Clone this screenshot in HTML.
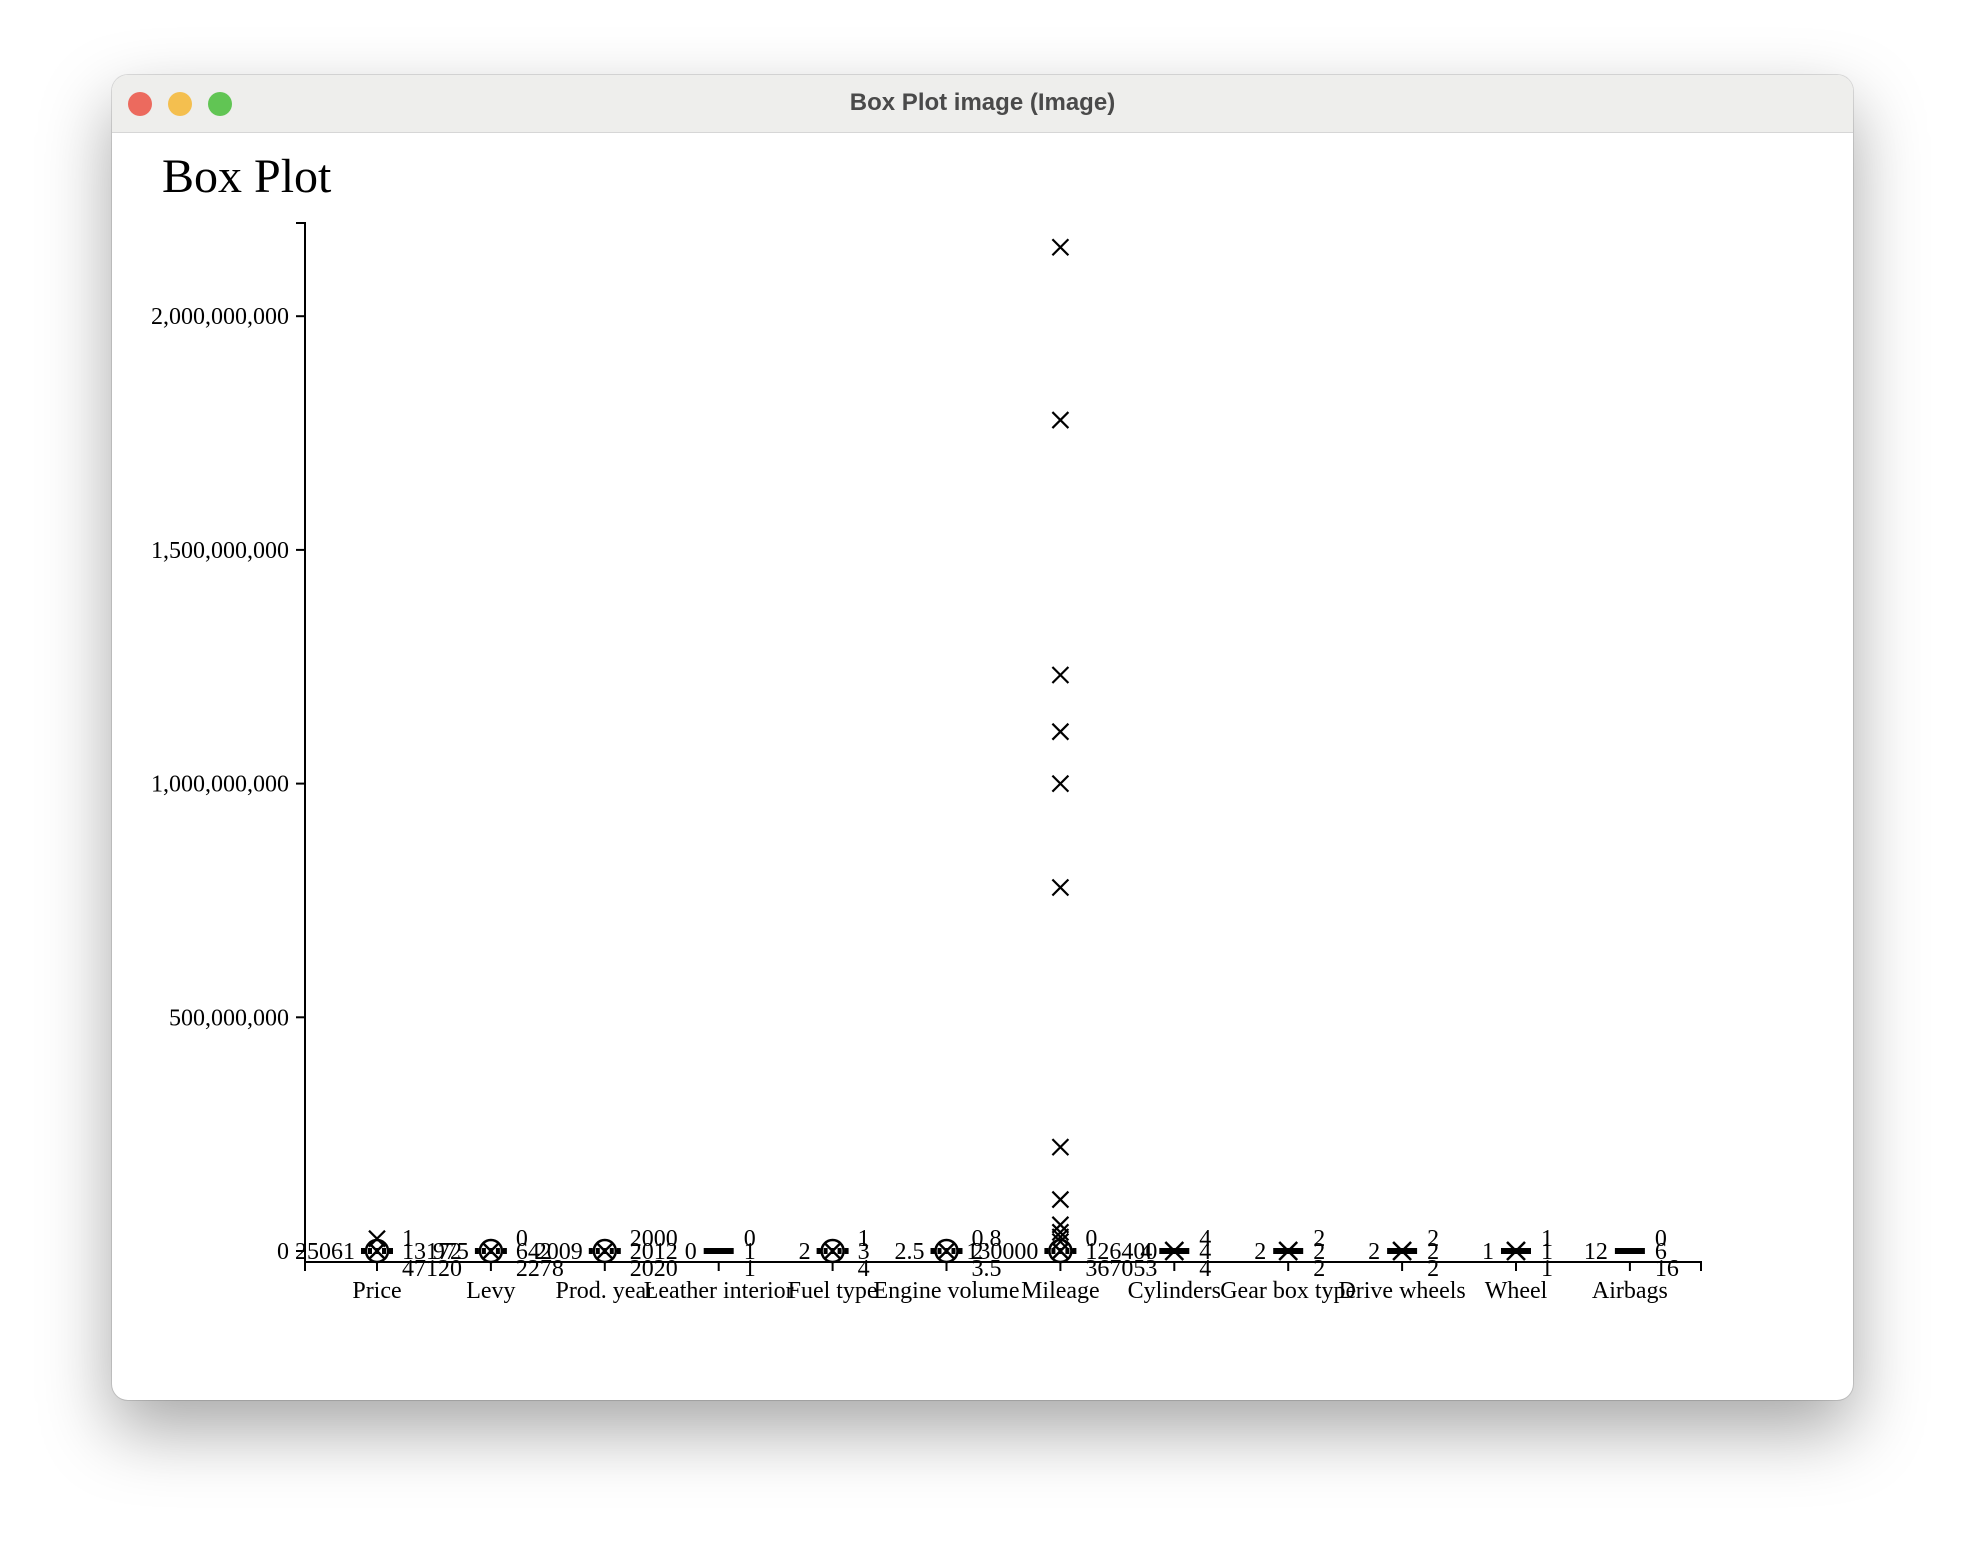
<!DOCTYPE html>
<html><head><meta charset="utf-8">
<style>
body{margin:0;width:1966px;height:1550px;background:#fff;position:relative;overflow:hidden;font-family:"Liberation Sans",sans-serif;}
#win{position:absolute;left:112px;top:75px;width:1741px;height:1325px;border-radius:16px;background:#fff;box-shadow:0 30px 70px rgba(0,0,0,0.35),0 0 0 1px rgba(0,0,0,0.12);overflow:hidden;}
#bar{position:absolute;left:0;top:0;width:100%;height:57px;background:#eeeeec;border-bottom:1px solid #d6d6d6;}
.dot{position:absolute;top:17px;width:24px;height:24px;border-radius:50%;}
#ttl{position:absolute;left:0;width:100%;top:14px;text-align:center;font-weight:bold;font-size:24px;color:#4a4a4a;}
svg{position:absolute;left:0;top:0;}
</style></head><body>
<div id="win">
 <div id="bar">
  <div class="dot" style="left:16px;background:#ec6a5e"></div>
  <div class="dot" style="left:56px;background:#f4bf4f"></div>
  <div class="dot" style="left:96px;background:#61c554"></div>
  <div id="ttl">Box Plot image (Image)</div>
 </div>
</div>
<svg id="chart" width="1966" height="1550" font-family="'Liberation Serif',serif">
 <text x="162" y="192" font-size="48">Box Plot</text>
</svg>
<script>
const categories=["Price","Levy","Prod. year","Leather interior","Fuel type","Engine volume","Mileage","Cylinders","Gear box type","Drive wheels","Wheel","Airbags"];
const leftLabels=["25061","975","2009","0","2","2.5","130000","4","2","2","1","12"];
const topLabels=["1","0","2000","0","1","0.8","0","4","2","2","1","0"];
const midLabels=["13172","642","2012","1","3","2","126400","4","2","2","1","6"];
const botLabels=["47120","2278","2020","1","4","3.5","367053","4","2","2","1","16"];
const markerTypes=["circle","circle","circle","bar","circle","circle","circle","cross","cross","cross","cross","bar"];
const outlierCats=[0,6,6,6,6,6,6,6,6,6,6,6,6];
const outlierVals=[26307500,2147483647,1777777777,1232323232,1111111111,999999999,777777777,222222222,110000000,56000000,40000000,30000000,20000000];
const yTicks=[0,500000000,1000000000,1500000000,2000000000];
const NS="http://www.w3.org/2000/svg";
const svg=document.getElementById('chart');
function yS(v){return 1251-v/1e9*467.4;}
function x(i){return 377+i*113.9;}
function el(t,a){const e=document.createElementNS(NS,t);for(const k in a)e.setAttribute(k,a[k]);svg.appendChild(e);return e;}
function txt(s,a){const e=el('text',a);e.textContent=s;return e;}
let ya=el('path',{d:'M296,223H305V1262',fill:'none',stroke:'#000','stroke-width':2});


let xa=el('path',{d:'M305,1271V1262H1701V1271',fill:'none',stroke:'#000','stroke-width':2});


yTicks.forEach(v=>{
 const yy=yS(v);
 const t=el('line',{x1:296,x2:305,y1:yy,y2:yy,stroke:'#000','stroke-width':2});
 
 
 const l=txt(v.toLocaleString('en-US'),{x:289,y:yy+8,'font-size':24,'text-anchor':'end'});
 
 
});
categories.forEach((c,i)=>{
 const cx=x(i),cy=yS(0);
 const t=el('line',{x1:cx,x2:cx,y1:1262,y2:1271,stroke:'#000','stroke-width':2});
 
 
 const l=txt(c,{x:cx,y:1298,'font-size':24,'text-anchor':'middle'});
 
 
 const g=document.createElementNS(NS,'g');svg.appendChild(g);
 
 
 const add=(t,a)=>{const e=document.createElementNS(NS,t);for(const k in a)e.setAttribute(k,a[k]);g.appendChild(e);return e;};
 const mt=markerTypes[i];
 if(mt==='circle'){
  add('line',{x1:cx-16,x2:cx+16,y1:cy,y2:cy,stroke:'#000','stroke-width':6,'stroke-dasharray':'4 3'});
  add('circle',{cx:cx,cy:cy,r:11,fill:'none',stroke:'#000','stroke-width':2.5});
  add('path',{d:`M${cx-8},${cy-8}L${cx+8},${cy+8}M${cx+8},${cy-8}L${cx-8},${cy+8}`,stroke:'#000','stroke-width':2.5});
 }else if(mt==='bar'){
  add('line',{x1:cx-15,x2:cx+15,y1:cy,y2:cy,stroke:'#000','stroke-width':6});
 }else{
  add('line',{x1:cx-15,x2:cx+15,y1:cy,y2:cy,stroke:'#000','stroke-width':6});
  add('path',{d:`M${cx-9},${cy-9}L${cx+9},${cy+9}M${cx+9},${cy-9}L${cx-9},${cy+9}`,stroke:'#000','stroke-width':2.5});
 }
 const ll=txt(leftLabels[i],{x:cx-22,y:cy+8,'font-size':24,'text-anchor':'end'});
 
 
 const tl=txt(topLabels[i],{x:cx+25,y:cy-5,'font-size':24});
 
 
 const ml=txt(midLabels[i],{x:cx+25,y:cy+8,'font-size':24});
 
 
 const bl=txt(botLabels[i],{x:cx+25,y:cy+25,'font-size':24});
 
 
});
outlierVals.forEach((v,k)=>{
 const cx=x(outlierCats[k]),cy=yS(v);
 const o=el('path',{d:`M${cx-8},${cy-8}L${cx+8},${cy+8}M${cx+8},${cy-8}L${cx-8},${cy+8}`,stroke:'#000','stroke-width':2.2});
 
 
});
</script>
</body></html>
